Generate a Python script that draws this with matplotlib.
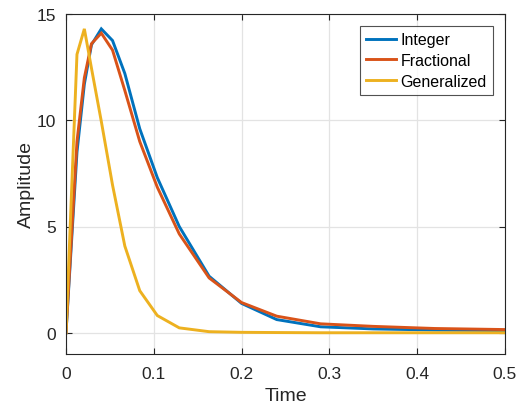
import matplotlib
matplotlib.use("Agg")
import matplotlib.pyplot as plt

time = [0, 0.0125, 0.0209, 0.029, 0.0402, 0.053, 0.067, 0.084, 0.104, 0.129,
        0.163, 0.2, 0.24, 0.29, 0.35, 0.42, 0.5]
integer = [0, 8.5, 11.7, 13.55, 14.3, 13.75, 12.2, 9.6, 7.3, 5.0,
           2.66, 1.38, 0.62, 0.28, 0.18, 0.13, 0.1]
fractional = [0, 9.0, 12.0, 13.6, 14.1, 13.3, 11.4, 9.0, 6.85, 4.65,
              2.58, 1.42, 0.78, 0.42, 0.3, 0.2, 0.15]
generalized = [0, 13.1, 14.3, 12.45, 9.95, 6.95, 4.08, 1.98, 0.81, 0.23,
               0.05, 0.02, 0.01, 0.0, 0.0, 0.0, 0.0]

names = ["Integer", "Fractional", "Generalized"]
colors = ["#0072BD", "#D95319", "#EDB120"]
xticks = [0, 0.1, 0.2, 0.3, 0.4, 0.5]
xticklabels = ["0", "0.1", "0.2", "0.3", "0.4", "0.5"]
yticks = [0, 5, 10, 15]

plt.rcParams["font.family"] = ["Liberation Sans", "DejaVu Sans"]

fig = plt.figure(figsize=(5.17, 4.10), dpi=100)
ax = fig.add_axes([66/517, 1 - 355/410, (505 - 66)/517, (355 - 15)/410])

for ys, name, c in zip([integer, fractional, generalized], names, colors):
    ax.plot(time, ys, color=c, lw=2.1, label=name, solid_joinstyle="miter")

ax.set_xlim(0, 0.5)
ax.set_ylim(-1, 15)
ax.set_xticks(xticks)
ax.set_xticklabels(xticklabels)
ax.set_yticks(yticks)
ax.grid(True, color="#e3e3e3", lw=0.9)
ax.set_axisbelow(True)
for s in ax.spines.values():
    s.set_color("#262626")
    s.set_linewidth(0.8)
ax.tick_params(direction="in", top=True, right=True, length=4, width=0.8,
               colors="#262626", labelsize=12.5)
ax.tick_params(axis="x", pad=9)
ax.tick_params(axis="y", pad=7)
ax.set_xlabel("Time", fontsize=14, color="#262626", labelpad=4)
ax.set_ylabel("Amplitude", fontsize=14, color="#262626", labelpad=1)

leg = ax.legend(loc="upper right", bbox_to_anchor=(1 - 12/439, 1 - 12/340),
                borderaxespad=0, fontsize=11.5, frameon=True, fancybox=False,
                handlelength=1.9, handletextpad=0.25, labelspacing=0.35,
                borderpad=0.4)
leg.get_frame().set_edgecolor("#262626")
leg.get_frame().set_linewidth(0.8)

fig.savefig("out.png", dpi=100)
